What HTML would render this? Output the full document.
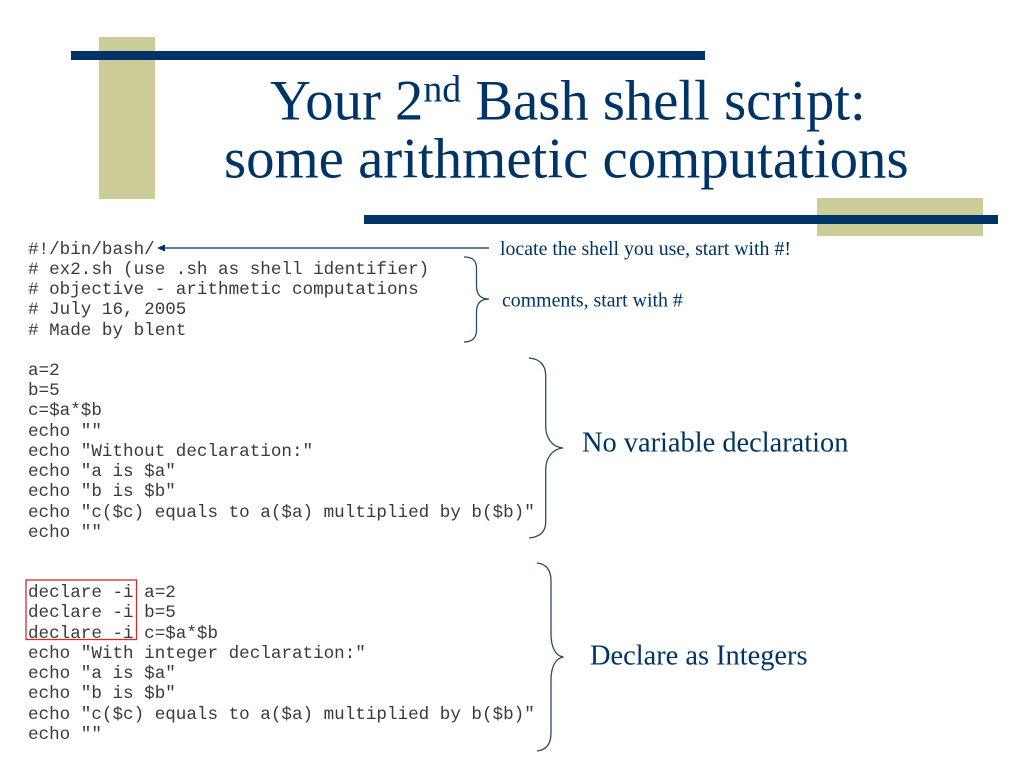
<!DOCTYPE html>
<html><head><meta charset="utf-8"><style>
html,body{margin:0;padding:0;background:#fff}
svg{display:block}
.m{font-family:"Liberation Mono",monospace;font-size:17.6px;fill:#3a3a3a}
.s{font-family:"Liberation Serif",serif;fill:#003366}
</style></head><body>
<svg width="1024" height="768" viewBox="0 0 1024 768" xmlns="http://www.w3.org/2000/svg">
<rect x="99" y="37" width="56" height="162" fill="#cccc99"/>
<rect x="817" y="198" width="166" height="38" fill="#cccc99"/>
<rect x="71" y="51" width="634" height="9" fill="#003366"/>
<rect x="364" y="215" width="634" height="9" fill="#003366"/>
<text class="s" x="270" y="119.5" font-size="56.7">Your 2<tspan font-size="37.8" dy="-18">nd</tspan><tspan dy="18"> Bash shell script:</tspan></text>
<text class="s" x="224" y="177.5" font-size="56.8">some arithmetic computations</text>
<text class="m" x="28" y="254">#!/bin/bash/</text>
<text class="m" x="28" y="274"># ex2.sh (use .sh as shell identifier)</text>
<text class="m" x="28" y="294"># objective - arithmetic computations</text>
<text class="m" x="28" y="314"># July 16, 2005</text>
<text class="m" x="28" y="335"># Made by blent</text>
<text class="m" x="28" y="375">a=2</text>
<text class="m" x="28" y="395">b=5</text>
<text class="m" x="28" y="415">c=$a*$b</text>
<text class="m" x="28" y="436">echo ""</text>
<text class="m" x="28" y="456">echo "Without declaration:"</text>
<text class="m" x="28" y="476">echo "a is $a"</text>
<text class="m" x="28" y="496">echo "b is $b"</text>
<text class="m" x="28" y="517">echo "c($c) equals to a($a) multiplied by b($b)"</text>
<text class="m" x="28" y="537">echo ""</text>
<text class="m" x="28" y="597">declare -i a=2</text>
<text class="m" x="28" y="617">declare -i b=5</text>
<text class="m" x="28" y="638">declare -i c=$a*$b</text>
<text class="m" x="28" y="658">echo "With integer declaration:"</text>
<text class="m" x="28" y="678">echo "a is $a"</text>
<text class="m" x="28" y="698">echo "b is $b"</text>
<text class="m" x="28" y="719">echo "c($c) equals to a($a) multiplied by b($b)"</text>
<text class="m" x="28" y="739">echo ""</text>
<rect x="26" y="580" width="110.5" height="59.5" fill="none" stroke="#d02c30" stroke-width="1.3"/>
<line x1="163" y1="248" x2="489" y2="248" stroke="#003366" stroke-width="1.3"/>
<polygon points="157,248 165,244.5 165,251.5" fill="#003366"/>
<g fill="none" stroke="#2a4a6a" stroke-width="1.3">
<path d="M464,257 C472,257 476.5,260 476.5,268 V286 C476.5,294 480,299 489,299 C480,299 476.5,304 476.5,312 V330 C476.5,338 472,342 464,342"/>
<path d="M529,358 C540,359 545.7,365 545.7,376 V426 C545.7,438 552,447 563,448 C552,449 545.7,458 545.7,470 V522 C545.7,532 540,537 529,538"/>
<path d="M537,563 C546,564 551,570 551,581 V634 C551,646 555,656 563.5,657 C555,658 551,668 551,680 V733 C551,744 546,750 537,751"/>
</g>
<text class="s" x="500" y="255" font-size="19.85">locate the shell you use, start with #!</text>
<text class="s" x="502" y="306.5" font-size="19.85">comments, start with #</text>
<text class="s" x="582" y="451.5" font-size="28.4">No variable declaration</text>
<text class="s" x="590" y="664.3" font-size="28.4">Declare as Integers</text>
</svg>
</body></html>
